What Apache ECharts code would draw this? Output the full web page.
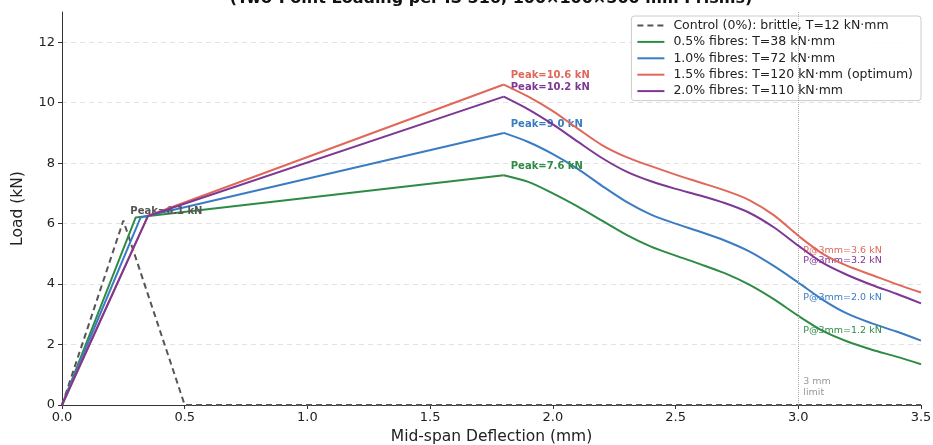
<!DOCTYPE html>
<html>
<head>
<meta charset="utf-8">
<script src="https://cdn.jsdelivr.net/npm/echarts@6/dist/echarts.min.js"></script>
<style>
  html, body { margin: 0; padding: 0; background: #fff; }
  #chart { width: 933px; height: 445px; }
</style>
</head>
<body>
<div id="chart"></div>
<script>
const seriesNames = [
  'Control (0%): brittle, T=12 kN·mm',
  '0.5% fibres: T=38 kN·mm',
  '1.0% fibres: T=72 kN·mm',
  '1.5% fibres: T=120 kN·mm (optimum)',
  '2.0% fibres: T=110 kN·mm',
]
const colors = ['#555555', '#2e8b45', '#3a7cc2', '#e0685a', '#7d3795']

// control (plain concrete) curve
const controlX = [0, 0.25, 0.5, 3.5]
const controlY = [0, 6.1, 0, 0]
const controlPeak = 6.1

// fibre curves: origin -> first crack -> peak, then post-peak softening
const crackX = [0.30, 0.32, 0.35, 0.35]
const crackY = [6.2, 6.2, 6.25, 6.25]
const postX = [1.8, 1.9, 2.0, 2.1, 2.2, 2.3, 2.4, 2.5, 2.6, 2.7, 2.8, 2.9, 3.0, 3.1, 3.2, 3.3, 3.4, 3.5]
const fibre05 = [7.6, 7.38, 7.0, 6.57, 6.1, 5.63, 5.24, 4.94, 4.66, 4.36, 3.98, 3.5, 2.95, 2.45, 2.1, 1.83, 1.6, 1.35]
const fibre10 = [9.0, 8.7, 8.3, 7.82, 7.25, 6.72, 6.3, 6.0, 5.73, 5.44, 5.08, 4.6, 4.05, 3.48, 3.02, 2.7, 2.43, 2.13]
const fibre15 = [10.6, 10.2, 9.72, 9.15, 8.6, 8.2, 7.9, 7.62, 7.36, 7.1, 6.78, 6.28, 5.6, 5.0, 4.6, 4.3, 4.0, 3.72]
const fibre20 = [10.2, 9.78, 9.28, 8.72, 8.17, 7.72, 7.4, 7.15, 6.93, 6.68, 6.36, 5.88, 5.27, 4.7, 4.3, 3.97, 3.68, 3.36]
const fibreCurves = [fibre05, fibre10, fibre15, fibre20]
const peakLabels = ['7.6', '9.0', '10.6', '10.2']
const p3mmLabels = ['1.2', '2.0', '3.6', '3.2']
const limitX = 3.0

const xTicks = [0, 0.5, 1.0, 1.5, 2.0, 2.5, 3.0, 3.5]
const yTicks = [0, 2, 4, 6, 8, 10, 12]

const FONT = 'DejaVu Sans'

const chart = echarts.init(document.getElementById('chart'))

const smallLabel = (text, color, bold, offset) => ({
  show: true,
  position: 'right',
  distance: 5,
  offset,
  formatter: text,
  color,
  fontFamily: FONT,
  fontSize: bold ? 10 : 9.5,
  fontWeight: bold ? 'bold' : 'normal',
})

const fibreSeries = []
fibreCurves.forEach((vals, i) => {
  const color = colors[i + 1]
  const at3 = vals[postX.indexOf(limitX)]
  // straight pre-peak branch
  fibreSeries.push({
    name: seriesNames[i + 1],
    type: 'line',
    symbol: 'none',
    z: 3 + i,
    data: [[0, 0], [crackX[i], crackY[i]], [postX[0], vals[0]]],
    lineStyle: { color, width: 2 },
    itemStyle: { color },
    markPoint: {
      symbol: 'circle',
      symbolSize: 0,
      silent: true,
      data: [
        {
          coord: [postX[0], vals[0]],
          label: smallLabel('Peak=' + peakLabels[i] + ' kN', color, true, [2, -9]),
        },
      ],
    },
  })
  // smooth softening branch
  fibreSeries.push({
    name: seriesNames[i + 1],
    type: 'line',
    symbol: 'none',
    smooth: 0.3,
    z: 3 + i,
    data: postX.map((x, j) => [x, vals[j]]),
    lineStyle: { color, width: 2 },
    itemStyle: { color },
    markPoint: {
      symbol: 'circle',
      symbolSize: 0,
      silent: true,
      data: [
        {
          coord: [limitX, at3],
          label: smallLabel('P@3mm=' + p3mmLabels[i] + ' kN', color, false, [0, 15]),
        },
      ],
    },
  })
})

chart.setOption({
  animation: false,
  backgroundColor: '#fff',
  textStyle: { fontFamily: FONT },
  title: {
    text: '(Two-Point Loading per IS 516, 100×100×500 mm Prisms)',
    left: 491,
    textAlign: 'center',
    top: -9,
    padding: 0,
    textStyle: { fontFamily: FONT, fontSize: 16, fontWeight: 'bold', color: '#111' },
  },
  grid: { left: 62, right: 12, top: 12, bottom: 40, outerBoundsMode: 'none' },
  legend: {
    right: 12,
    top: 16,
    orient: 'vertical',
    itemWidth: 27,
    itemHeight: 12,
    itemGap: 3.4,
    padding: [3, 8, 3, 5],
    borderColor: '#cccccc',
    borderWidth: 1,
    borderRadius: 3,
    backgroundColor: 'rgba(255,255,255,0.85)',
    itemStyle: { opacity: 0 },
    textStyle: { fontFamily: FONT, fontSize: 12.5, color: '#222', padding: [0, 0, 0, 4] },
    data: seriesNames,
  },
  xAxis: {
    type: 'value',
    min: 0,
    max: 3.5,
    interval: 0.5,
    name: 'Mid-span Deflection (mm)',
    nameLocation: 'middle',
    nameGap: 24,
    nameTextStyle: { fontFamily: FONT, fontSize: 15.5, color: '#222' },
    axisLine: { show: true, lineStyle: { color: '#333', width: 1 } },
    axisTick: { show: true, length: 4, lineStyle: { color: '#333' } },
    axisLabel: {
      color: '#222',
      fontFamily: FONT,
      fontSize: 13,
      margin: 6,
      formatter: (v) => (xTicks.includes(v) ? v.toFixed(1) : ''),
    },
    splitLine: { show: false },
  },
  yAxis: {
    type: 'value',
    min: 0,
    max: 13,
    interval: 2,
    name: 'Load (kN)',
    nameLocation: 'middle',
    nameGap: 36,
    nameTextStyle: { fontFamily: FONT, fontSize: 15.5, color: '#222' },
    axisLine: { show: true, lineStyle: { color: '#333', width: 1 } },
    axisTick: { show: true, length: 4, lineStyle: { color: '#333' }, customValues: yTicks },
    axisLabel: {
      color: '#222',
      fontFamily: FONT,
      fontSize: 13,
      margin: 7,
      customValues: yTicks,
      formatter: (v) => (yTicks.includes(v) ? String(v) : ''),
    },
    splitLine: {
      show: true,
      showMinLine: false,
      lineStyle: { color: '#e2e2e2', type: [5, 4], width: 1 },
    },
  },
  series: [
    {
      name: seriesNames[0],
      type: 'line',
      symbol: 'none',
      z: 2,
      data: controlX.map((x, i) => [x, controlY[i]]),
      lineStyle: { color: colors[0], width: 2, type: [6, 4] },
      itemStyle: { color: colors[0] },
      markLine: {
        silent: true,
        symbol: 'none',
        label: { show: false },
        lineStyle: { color: '#aaaaaa', type: 'dotted', width: 1 },
        data: [{ xAxis: limitX }],
      },
      markPoint: {
        symbol: 'circle',
        symbolSize: 0,
        silent: true,
        data: [
          {
            coord: [controlX[1], controlPeak],
            label: smallLabel('Peak=' + controlPeak.toFixed(1) + ' kN', colors[0], true, [2, -9]),
          },
          {
            coord: [limitX, 0],
            label: {
              show: true,
              position: 'right',
              distance: 5,
              offset: [0, -18],
              formatter: '3 mm\nlimit',
              color: '#999',
              fontFamily: FONT,
              fontSize: 9.5,
              lineHeight: 11,
            },
          },
        ],
      },
    },
  ].concat(fibreSeries),
})
</script>
</body>
</html>
